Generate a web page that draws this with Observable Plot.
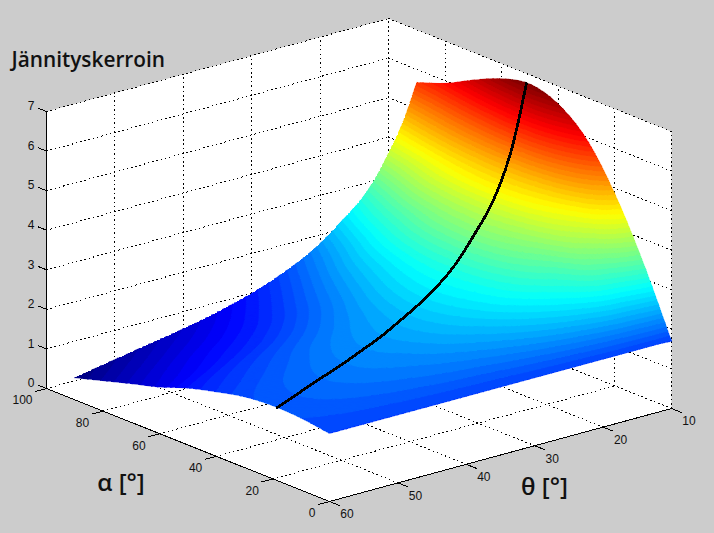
<!DOCTYPE html>
<html><head><meta charset="utf-8">
<script src="https://cdn.jsdelivr.net/npm/d3@7"></script>
<script src="https://cdn.jsdelivr.net/npm/@observablehq/plot@0.6"></script>
<style>html,body{margin:0;padding:0;background:#cccccc;overflow:hidden}svg{display:block;background:#cccccc}</style>
</head><body><div id="chart"></div>
<script>
// Surface samples: jännityskerroin at (alpha, theta)
const alphaGrid = [0,10,20,30,40,50,60,70,80,90];
const thetaGrid = [10,12,14,16,18,20,25,30,35,40,45,50,60];
const zTheta10 = [1.70,3.40,4.85,5.95,6.55,6.77,6.62,6.30,5.93,5.67];
const zTheta12 = [1.72,3.25,4.50,5.25,5.70,5.80,5.65,5.40,5.10,4.77];
const zTheta14 = [1.72,3.10,4.05,4.60,4.85,4.90,4.82,4.65,4.40,4.12];
const zTheta16 = [1.72,3.00,3.75,4.20,4.42,4.45,4.38,4.20,3.90,3.55];
const zTheta18 = [1.72,2.85,3.40,3.80,4.00,4.03,3.95,3.78,3.47,3.12];
const zTheta20 = [1.72,2.70,3.20,3.55,3.72,3.72,3.62,3.40,3.14,2.82];
const zTheta25 = [1.72,2.42,2.85,3.02,3.08,3.06,2.95,2.76,2.47,2.17];
const zTheta30 = [1.72,2.22,2.55,2.70,2.73,2.65,2.48,2.26,2.00,1.74];
const zTheta35 = [1.72,2.10,2.35,2.45,2.42,2.30,2.10,1.88,1.65,1.43];
const zTheta40 = [1.72,2.03,2.20,2.28,2.22,2.05,1.83,1.60,1.40,1.20];
const zTheta45 = [1.72,1.97,2.12,2.15,2.06,1.87,1.63,1.42,1.22,1.02];
const zTheta50 = [1.72,1.92,2.03,2.02,1.90,1.72,1.48,1.28,1.07,0.87];
const zTheta60 = [1.72,1.82,1.85,1.79,1.63,1.44,1.18,0.98,0.77,0.56];
const zRows = [zTheta10,zTheta12,zTheta14,zTheta16,zTheta18,zTheta20,zTheta25,zTheta30,zTheta35,zTheta40,zTheta45,zTheta50,zTheta60];

// The black curve on the surface
const lineTheta = [60,56,52,47.8,43.4,39.4,35.4,32,29.4,26.8,24.8,22.8,20,18.4,17,15.4,13.4,11.8,10.2];
const lineAlpha = [18.4,21,23.6,26.3,29.2,31.8,34.4,36.6,38.3,40,41.3,42.6,44.4,45.4,46.4,47.4,48.7,49.7,50.8];
const lineZ = [1.85,1.93,2.01,2.08,2.18,2.28,2.44,2.59,2.74,2.91,3.09,3.33,3.73,3.97,4.21,4.59,5.21,5.94,6.77];

// Axes
const zTicks = [0,1,2,3,4,5,6,7];
const alphaTicks = [0,20,40,60,80,100];
const thetaTicks = [10,20,30,40,50,60];
const titleText = "Jännityskerroin";
const alphaLabel = "α [°]";
const thetaLabel = "θ [°]";
const font = "Liberation Sans, Arial, sans-serif";
const labelFont = "Open Sans, sans-serif";
const zMin = 0.56, zMax = 6.77;

// Orthographic view of the box: screen vectors for each full axis span
const view = {tx:342, ty:93, ax:-283, ay:113, zy:277};
const P = (alpha, theta, z) => ({
  x: view.tx*(60-theta)/50 + view.ax*alpha/100,
  y: view.ty*(60-theta)/50 + view.ay*alpha/100 + view.zy*z/7
});

// Jet colormap, 64 levels
const jetCh = t => Math.max(0, Math.min(1, t));
const jet = t => {
  const r = jetCh(Math.min(4*t-1.5, -4*t+4.5));
  const g = jetCh(Math.min(4*t-0.5, -4*t+3.5));
  const b = jetCh(Math.min(4*t+0.5, -4*t+2.5));
  return d3.rgb(r*255, g*255, b*255).formatHex();
};
const jet64 = d3.range(64).map(i => jet((i+0.5)/64));
const bandEdge = i => zMin + (zMax-zMin)*i/64;
const thresholds = d3.range(1,64).map(bandEdge);

// Smooth drawing mesh through the table
function hermite(xs, ys, x) {
  const i = Math.min(xs.length-2, Math.max(0, d3.bisectRight(xs, x)-1));
  const tan = k => k===0 ? (ys[1]-ys[0])/(xs[1]-xs[0])
    : k===xs.length-1 ? (ys[k]-ys[k-1])/(xs[k]-xs[k-1])
    : (ys[k+1]-ys[k-1])/(xs[k+1]-xs[k-1]);
  const h = xs[i+1]-xs[i], s = (x-xs[i])/h, s2=s*s, s3=s2*s;
  return (2*s3-3*s2+1)*ys[i] + (s3-2*s2+s)*h*tan(i) + (-2*s3+3*s2)*ys[i+1] + (s3-s2)*h*tan(i+1);
}
const fineAlpha = d3.range(0, 90.01, 2.25);
const fineTheta = [];
for (let i=0;i<thetaGrid.length-1;i++) {
  const a=thetaGrid[i], b=thetaGrid[i+1], n = b-a===2?6:(b-a===5?6:8);
  for (let k=0;k<n;k++) fineTheta.push(a+(b-a)*k/n);
}
fineTheta.push(60);
const zByAlpha = fineAlpha.map(a => zRows.map(r => hermite(alphaGrid, r, a)));
const zMesh = fineAlpha.map((a,i) => fineTheta.map(t => hermite(thetaGrid, zByAlpha[i], t)));

// Split each mesh triangle into the colour bands it crosses
const bands = [];
let id = 0;
function clip(poly, limit, keepAbove) {
  const out = [];
  for (let i=0;i<poly.length;i++) {
    const p=poly[i], q=poly[(i+1)%poly.length];
    const pin = keepAbove ? p.z>=limit : p.z<=limit;
    const qin = keepAbove ? q.z>=limit : q.z<=limit;
    if (pin) out.push(p);
    if (pin!==qin) {
      const s=(limit-p.z)/(q.z-p.z);
      out.push({a:p.a+(q.a-p.a)*s, t:p.t+(q.t-p.t)*s, z:limit});
    }
  }
  return out;
}
function addTriangle(tri) {
  const zs = tri.map(d=>d.z);
  const lo = Math.max(0, Math.floor((d3.min(zs)-zMin)/(zMax-zMin)*64));
  const hi = Math.min(63, Math.floor((d3.max(zs)-zMin)/(zMax-zMin)*64));
  for (let k=lo;k<=hi;k++) {
    let poly = k===0 ? tri : clip(tri, bandEdge(k), true);
    if (k<63) poly = clip(poly, bandEdge(k+1), false);
    if (poly.length<3) continue;
    const v = (bandEdge(k)+bandEdge(k+1))/2;
    for (const d of poly) { const s=P(d.a,d.t,d.z); bands.push({id, v, x:s.x, y:s.y}); }
    id++;
  }
}
for (let j=0;j<fineTheta.length-1;j++) {
  for (let i=fineAlpha.length-2;i>=0;i--) {
    const a=fineAlpha[i], A=fineAlpha[i+1], t=fineTheta[j], T=fineTheta[j+1];
    const p00={a,t,z:zMesh[i][j]}, p10={a:A,t,z:zMesh[i+1][j]}, p01={a,t:T,z:zMesh[i][j+1]}, p11={a:A,t:T,z:zMesh[i+1][j+1]};
    addTriangle([p10,p00,p11]);
    addTriangle([p00,p01,p11]);
  }
}

// Box
const boxPath = [P(100,60,0),P(0,60,0),P(0,10,0),P(0,10,7),P(100,10,7),P(100,60,7),P(100,60,0)];

// Dotted grid
const grid = [];
let gid = 0;
const seg = (p,q) => { grid.push({g:gid,...p}); grid.push({g:gid,...q}); gid++; };
for (const z of zTicks) { seg(P(100,60,z),P(100,10,z)); seg(P(100,10,z),P(0,10,z)); }
for (const t of thetaTicks) { seg(P(100,t,0),P(100,t,7)); seg(P(0,t,0),P(100,t,0)); }
for (const a of alphaTicks) { seg(P(a,10,0),P(a,10,7)); seg(P(a,60,0),P(a,10,0)); }

const axes = [
  {p:P(100,60,0),q:P(100,60,7)},
  {p:P(100,60,0),q:P(0,60,0)},
  {p:P(0,60,0),q:P(0,10,0)},
  ...zTicks.map(z=>({p:P(100,60,z),q:P(103,60,z)})),
  ...alphaTicks.map(a=>({p:P(a,60,0),q:P(a,61.7,0)})),
  ...thetaTicks.map(t=>({p:P(0,t,0),q:P(-3.7,t,0)}))
];

const curve = lineTheta.map((t,i)=>P(lineAlpha[i],t,lineZ[i]));
const tickText = (rows, o) => Plot.text(rows, {x:"x", y:"y", text:"t", fontFamily:font, fontSize:12, fill:"#111", ...o});

const plot = Plot.plot({
  width:714, height:533, margin:0,
  style:{background:"#cccccc"},
  x:{domain:[-329,385], range:[0,714], axis:null},
  y:{domain:[-32,501], range:[533,0], axis:null},
  color:{type:"threshold", domain:thresholds, range:jet64},
  marks:[
    Plot.line(boxPath,{x:"x",y:"y",fill:"white",stroke:"none"}),
    Plot.line(grid,{x:"x",y:"y",z:"g",stroke:"black",strokeWidth:1,strokeDasharray:"0.7 3.7",shapeRendering:"crispEdges"}),
    Plot.link(axes,{x1:d=>d.p.x,y1:d=>d.p.y,x2:d=>d.q.x,y2:d=>d.q.y,stroke:"black",strokeWidth:1,shapeRendering:"crispEdges"}),
    Plot.line(bands,{x:"x",y:"y",z:"id",fill:"v",stroke:"v",strokeWidth:0.6,shapeRendering:"crispEdges"}),
    Plot.line(curve,{x:"x",y:"y",curve:"catmull-rom",stroke:"black",strokeWidth:2.8,shapeRendering:"crispEdges"}),
    tickText(zTicks.map(z=>({...P(100,60,z),t:String(z)})),{textAnchor:"end",dx:-12,dy:-5}),
    tickText(alphaTicks.map(a=>({...P(a,60,0),t:String(a)})),{textAnchor:"end",dx:-14,dy:12}),
    tickText(thetaTicks.map(t=>({...P(0,t,0),t:String(t)})),{textAnchor:"middle",dx:17.5,dy:13}),
    Plot.text([titleText],{frameAnchor:"top-left",dx:11,dy:52,text:d=>d,fontFamily:labelFont,fontWeight:600,fontSize:20.8,fill:"#111"}),
    Plot.text([alphaLabel],{x:P(50,60,0).x,y:P(50,60,0).y,dx:-67,dy:38,text:d=>d,fontFamily:labelFont,fontWeight:600,fontSize:24,fill:"#111"}),
    Plot.text([thetaLabel],{x:P(0,35,0).x,y:P(0,35,0).y,dx:44,dy:32,text:d=>d,fontFamily:labelFont,fontWeight:600,fontSize:24,fill:"#111"})
  ]
});
document.getElementById("chart").appendChild(plot);
</script></body></html>
